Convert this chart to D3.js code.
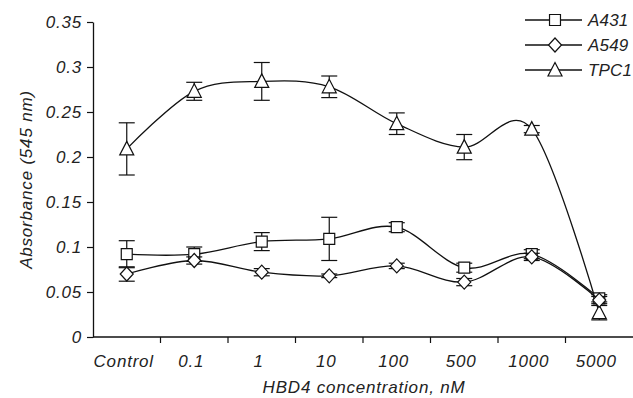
<!DOCTYPE html>
<html>
<head>
<meta charset="utf-8">
<script src="https://cdn.jsdelivr.net/npm/d3@7/dist/d3.min.js"></script>
<style>
  body { margin: 0; background: #fff; }
  svg text { font-family: "Liberation Sans", Arial, sans-serif; font-style: italic; fill: #222; }
</style>
</head>
<body>
<div id="chart"></div>
<script>
// categories on the x axis
const categories = ['Control', '0.1', '1', '10', '100', '500', '1000', '5000']

// mean absorbance for each cell line
const a431 = [0.092, 0.092, 0.106, 0.109, 0.122, 0.077, 0.092, 0.043]
const a549 = [0.070, 0.085, 0.072, 0.068, 0.079, 0.061, 0.089, 0.041]
const tpc1 = [0.209, 0.273, 0.284, 0.278, 0.237, 0.211, 0.231, 0.027]

// error bar half-heights
const a431Err = [0.015, 0.008, 0.010, 0.024, 0.005, 0.005, 0.005, 0.004]
const a549Err = [0.008, 0.004, 0.004, 0.002, 0.003, 0.004, 0.004, 0.004]
const tpc1Err = [0.029, 0.010, 0.021, 0.012, 0.012, 0.014, 0.004, 0.008]

const yTicks = [0, 0.05, 0.1, 0.15, 0.2, 0.25, 0.3, 0.35]

const seriesNames = ['A431', 'A549', 'TPC1']

const W = 633, H = 398
const ud = {
    ml: 93, // left edge of plot
    mr: 0,
    mt: 22,
    mb: 61,
}

const svg = d3.select('#chart').append('svg')
    .attr('width', W)
    .attr('height', H)

const x = d3.scaleBand()
    .domain(categories)
    .range([ud.ml, W - ud.mr])
    .padding(0)

const y = d3.scaleLinear()
    .domain([0, 0.35])
    .range([H - ud.mb, ud.mt])

const cx = d => x(d) + x.bandwidth() / 2

// markers
const sym = {
    A431: d3.symbol().type(d3.symbolSquare).size(120),
    A549: d => `M0,-7L6.5,0L0,7L-6.5,0Z`,
    TPC1: d => `M0,-7.5L7,6L-7,6Z`,
}

const series = [
    { name: 'TPC1', values: tpc1, err: tpc1Err },
    { name: 'A431', values: a431, err: a431Err },
    { name: 'A549', values: a549, err: a549Err },
]

const fmt = v => v === 0 ? '0' : String(+v.toFixed(2))

// y axis
const yAxis = svg.append('g')
    .attr('transform', `translate(${ud.ml},0)`)
    .call(d3.axisLeft(y).tickValues(yTicks).tickFormat(fmt).tickSize(6).tickPadding(5).tickSizeOuter(0))
yAxis.select('.domain').attr('stroke', '#111').attr('stroke-width', 1.3)
yAxis.selectAll('.tick line').attr('stroke', '#111').attr('stroke-width', 1.2)
yAxis.selectAll('.tick text')
    .style('font-size', '17px')
    .style('letter-spacing', '0.8px')
    .style('font-family', '"Liberation Sans", Arial, sans-serif')
    .attr('fill', '#222')

// x axis: ticks at band boundaries
const xg = svg.append('g')
svg.append('line')
    .attr('x1', ud.ml).attr('x2', W)
    .attr('y1', y(0)).attr('y2', y(0))
    .attr('stroke', '#111').attr('stroke-width', 1.3)
xg.selectAll('line.tick')
    .data(categories.slice(1))
    .enter().append('line')
    .attr('x1', d => x(d)).attr('x2', d => x(d))
    .attr('y1', y(0)).attr('y2', y(0) + 6)
    .attr('stroke', '#111').attr('stroke-width', 1.2)
xg.selectAll('text')
    .data(categories)
    .enter().append('text')
    .attr('x', d => cx(d) - 3)
    .attr('y', y(0) + 30)
    .attr('text-anchor', 'middle')
    .style('font-size', '17px')
    .style('letter-spacing', '0.8px')
    .text(d => d)

// axis titles
svg.append('text')
    .attr('transform', `translate(32,${(y(0) + y(0.35)) / 2}) rotate(-90)`)
    .attr('text-anchor', 'middle')
    .style('font-size', '17px')
    .style('letter-spacing', '0.8px')
    .text('Absorbance (545 nm)')

svg.append('text')
    .attr('x', 364)
    .attr('y', 393)
    .attr('text-anchor', 'middle')
    .style('font-size', '17px')
    .style('letter-spacing', '0.8px')
    .text('HBD4 concentration, nM')

// lines
const line = d3.line()
    .x((d, i) => cx(categories[i]))
    .y(d => y(d))
    .curve(d3.curveCardinal.tension(0))

series.forEach(s => {
    const g = svg.append('g').attr('class', 'series')
    g.append('path')
        .attr('d', line(s.values))
        .attr('fill', 'none')
        .attr('stroke', '#111')
        .attr('stroke-width', 1.3)

    const eb = g.selectAll('.err')
        .data(s.values.map((v, i) => ({ v, e: s.err[i], c: categories[i] })))
        .enter().append('g')
    eb.append('line')
        .attr('x1', d => cx(d.c)).attr('x2', d => cx(d.c))
        .attr('y1', d => y(d.v + d.e)).attr('y2', d => y(d.v - d.e))
        .attr('stroke', '#111').attr('stroke-width', 1.2)
    eb.append('line')
        .attr('x1', d => cx(d.c) - 8).attr('x2', d => cx(d.c) + 8)
        .attr('y1', d => y(d.v + d.e)).attr('y2', d => y(d.v + d.e))
        .attr('stroke', '#111').attr('stroke-width', 1.2)
    eb.append('line')
        .attr('x1', d => cx(d.c) - 8).attr('x2', d => cx(d.c) + 8)
        .attr('y1', d => y(d.v - d.e)).attr('y2', d => y(d.v - d.e))
        .attr('stroke', '#111').attr('stroke-width', 1.2)

    g.selectAll('.mk')
        .data(s.values)
        .enter().append('path')
        .attr('transform', (d, i) => `translate(${cx(categories[i])},${y(d)})`)
        .attr('d', sym[s.name])
        .attr('fill', '#fff')
        .attr('stroke', '#111')
        .attr('stroke-width', 1.2)
})

// legend
const lg = svg.append('g')
seriesNames.forEach((n, i) => {
    const ly = 20 + i * 25
    lg.append('line')
        .attr('x1', 525).attr('x2', 582)
        .attr('y1', ly).attr('y2', ly)
        .attr('stroke', '#111').attr('stroke-width', 1.3)
    lg.append('path')
        .attr('transform', `translate(555,${ly})`)
        .attr('d', sym[n])
        .attr('fill', '#fff')
        .attr('stroke', '#111')
        .attr('stroke-width', 1.2)
    lg.append('text')
        .attr('x', 588)
        .attr('y', ly + 6)
        .style('font-size', '17px')
        .style('letter-spacing', '0.2px')
        .text(n)
})
</script>
</body>
</html>
